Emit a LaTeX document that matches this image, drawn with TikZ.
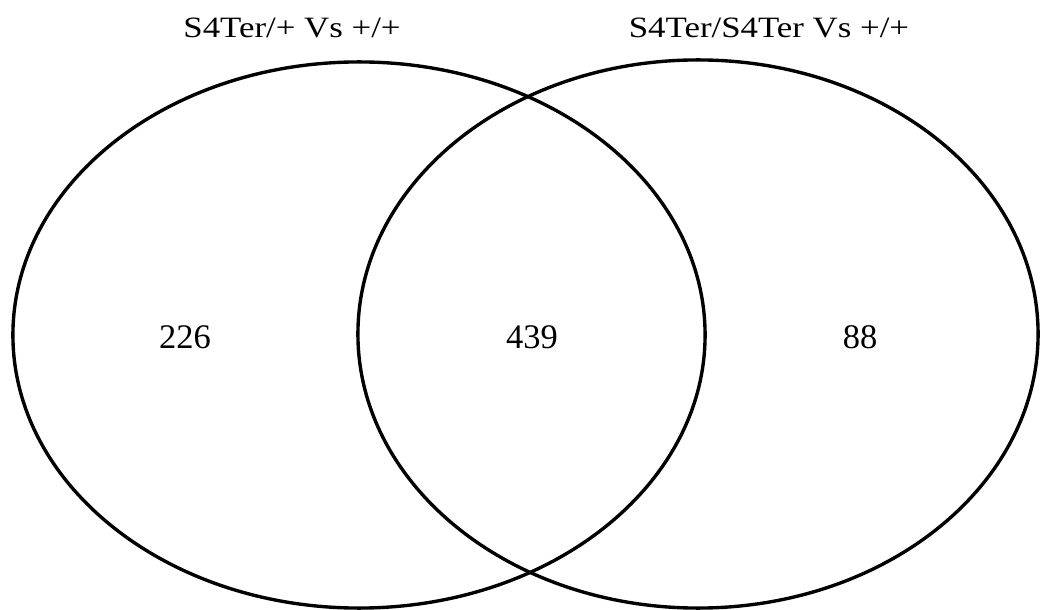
\documentclass[tikz,border=0pt]{standalone}
\usepackage{fontspec}
\setmainfont{Liberation Serif}
\usetikzlibrary{positioning, shapes.geometric}

\begin{document}
\begin{tikzpicture}[
        x=0.025cm, y=-0.025cm,
        setNode/.style={draw, ellipse, line width=2.4pt, inner sep=0pt},
        titleNode/.style={anchor=base, font=\fontsize{21}{25}\selectfont, xscale=1.18, transform shape, inner sep=0pt},
        countNode/.style={anchor=base, font=\fontsize{24.5}{29}\selectfont, inner sep=0pt}
    ]
        \useasboundingbox (0,0) rectangle (1041,610);

        % Sets
        \node[setNode, minimum width=17.3cm, minimum height=13.65cm] (setA) at (359,335) {};
        \node[setNode, minimum width=17.0cm, minimum height=13.7cm] (setB) at (698,334) {};

        % Titles
        \node[titleNode] (titleA) at (292,38) {S4Ter/+ Vs +/+};
        \node[titleNode] (titleB) at (769,38) {S4Ter/S4Ter Vs +/+};

        % Counts
        \node[countNode] (onlyA) at (185,348) {226};
        \node[countNode] (both) at (532,348) {439};
        \node[countNode] (onlyB) at (860,348) {88};
    \end{tikzpicture}
\end{document}
